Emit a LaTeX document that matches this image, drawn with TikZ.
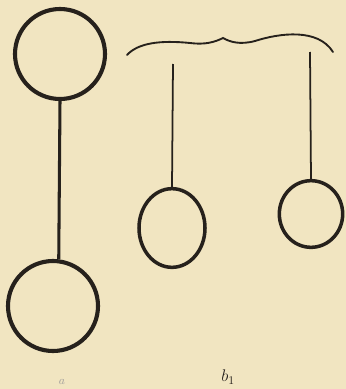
\documentclass[tikz,border=0pt]{standalone}
\usetikzlibrary{shapes.geometric}
\definecolor{paper}{RGB}{241,229,193}
\definecolor{ink}{RGB}{38,33,28}

\begin{document}
\begin{tikzpicture}[x=0.03cm,y=-0.03cm,
    ball/.style={circle,draw=ink,line width=3.5pt,inner sep=0pt},
    egg/.style={ellipse,draw=ink,line width=3pt,inner sep=0pt},
    thread/.style={draw=ink,line width=1.5pt},
    label/.style={text=ink,font=\Large}]
        \fill[paper] (0,0) rectangle (346,389);
        \useasboundingbox (0,0) rectangle (346,389);
        % a
        \node[ball,minimum size=2.7cm] (topball) at (60,54) {};
        \node[ball,minimum size=2.7cm] (botball) at (53,306) {};
        \draw[ink,line width=2.6pt] (topball.south) -- (botball.83);
        % b_1
        \draw[ink,line width=1.6pt,line cap=round] (127,55) .. controls (138,43) and (160,40) .. (190,43)
            .. controls (205,45) and (215,42) .. (223,38)
            .. controls (230,42) and (240,45) .. (255,41)
            .. controls (280,33) and (318,28) .. (333,52);
        \coordinate (lhook) at (173,64);
        \coordinate (rhook) at (310,52);
        \node[egg,minimum width=1.98cm,minimum height=2.36cm] (lball) at (172,228) {};
        \node[egg,minimum width=1.9cm,minimum height=2.0cm] (rball) at (311,214) {};
        \draw[thread] (lhook) -- (lball.north);
        \draw[thread] (rhook) -- (rball.north);
        \node[text=ink!45,font=\normalsize] (lblA) at (62,382) {$a$};
        \node[label] (lblB) at (228,377) {$b_1$};
    \end{tikzpicture}
\end{document}
